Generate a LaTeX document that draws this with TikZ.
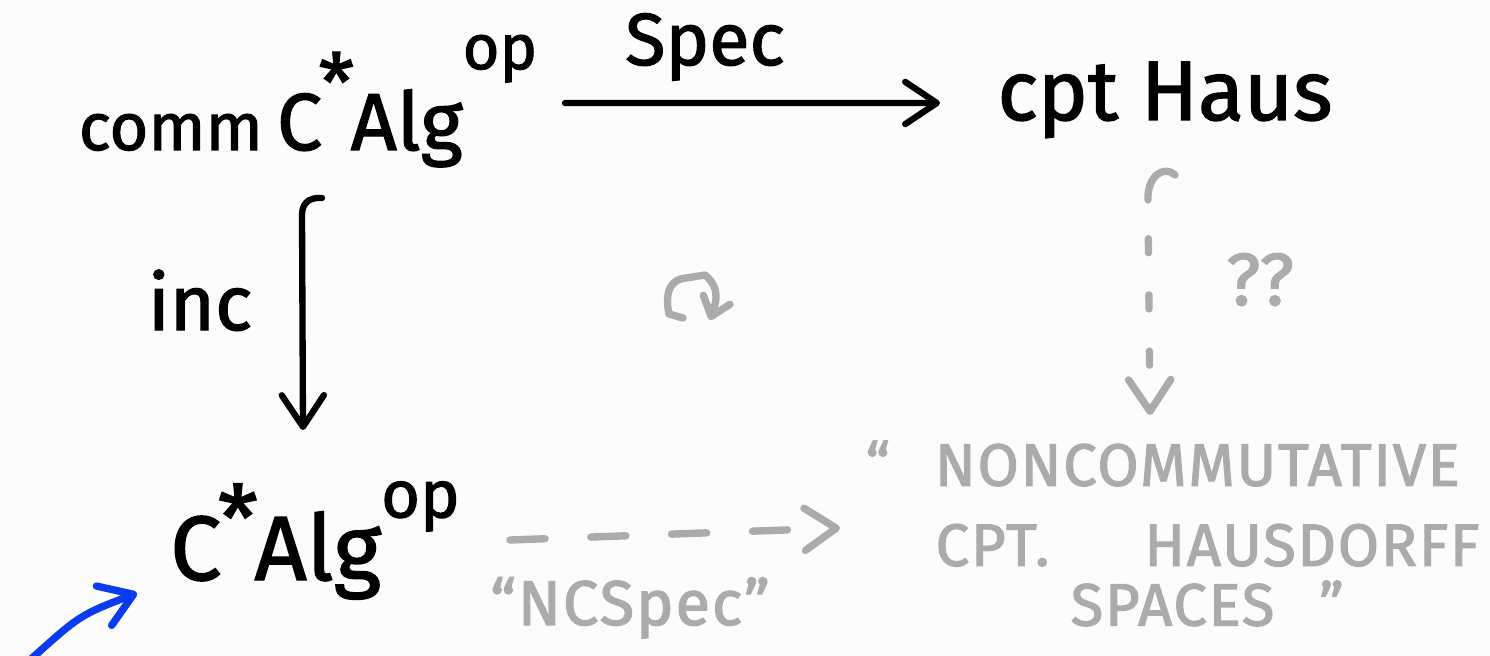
\documentclass[tikz,border=0pt]{standalone}
\usepackage{fontspec}
\setmainfont{Fira Sans}[FakeBold=1.6]
\newfontfamily\spaced[LetterSpace=3,FakeBold=2]{Fira Sans}
\usetikzlibrary{arrows.meta}
\definecolor{bg}{HTML}{FCFCFD}
\definecolor{lightgrey}{HTML}{ABABAB}
\definecolor{penblue}{HTML}{0A3BEF}
\begin{document}
\begin{tikzpicture}[
  ink/.style={line width=1.8pt, line cap=round, line join=round},
  greyink/.style={ink, draw=lightgrey, line width=2.1pt},
  tip/.style={-{Straight Barb[length=9pt,width=12pt,round]}},
  smalltip/.style={-{Straight Barb[length=5pt,width=8pt,round]}},
  lbl/.style={inner sep=0pt},
  glbl/.style={lbl, text=lightgrey, font=\spaced},
]
\fill[bg] (0,0) rectangle (14.9,6.55);
\useasboundingbox (0,0) rectangle (14.9,6.55);

% main objects
\node[lbl, anchor=base] (A) at (3.08,5.05) {\fontsize{19}{24}\selectfont comm\hspace{4pt}\fontsize{23}{28}\selectfont C\kern-1pt\raisebox{0.9ex}{*}\kern-1pt Alg\raisebox{1.9ex}{\fontsize{18}{20}\selectfont op}};
\node[lbl, anchor=base] (B) at (11.65,5.35) {\fontsize{24}{28}\selectfont cpt Haus};
\node[lbl, anchor=base] (C) at (3.15,0.75) {\fontsize{26}{30}\selectfont C\kern-1pt\raisebox{0.6ex}{*}\kern-1pt Alg\raisebox{1.3ex}{\fontsize{19}{22}\selectfont op}};
\node[glbl, anchor=north west, align=left, font=\spaced\fontsize{17}{20}\selectfont] (D) at (8.65,2.15)
  {“\hspace{0.45cm}NONCOMMUTATIVE\\[2.8pt]
   \hspace{0.7cm}CPT.\hspace{0.95cm}HAUSDORFF\\[-3pt]
   \hspace{2.05cm}SPACES\hspace{0.45cm}”};

% labels
\node[lbl, anchor=base] (spec) at (7.05,5.9) {\fontsize{21}{26}\selectfont Spec};
\node[lbl, anchor=base] (inc) at (2.0,3.25) {\fontsize{22}{24}\selectfont inc};
\node[glbl, anchor=base] (ncspec) at (6.3,0.3) {\fontsize{18}{20}\selectfont “NCSpec”};
\node[glbl, anchor=base] (qq) at (12.6,3.5) {\fontsize{21}{24}\selectfont ??};

% Spec arrow
\draw[ink, tip] ([shift={(2.57,0.47)}]A.base) -- ([shift={(-2.25,0.17)}]B.base);

% inclusion (hooked) arrow
\draw[ink, tip] ([shift={(0.14,-0.48)}]A.base)
  .. controls ([shift={(-0.01,-0.47)}]A.base) and ([shift={(-0.06,-0.55)}]A.base) ..
  ([shift={(-0.06,-0.65)}]A.base) -- ([shift={(-0.12,1.5)}]C.base);

% dashed NCSpec arrow
\draw[greyink, tip, dash pattern=on 10pt off 13pt] ([shift={(1.95,0.4)}]C.base) -- ([shift={(-0.25,-0.88)}]D.north west);

% dashed hooked arrow ??
\draw[greyink] ([shift={(0.1,-0.55)}]B.base)
  .. controls ([shift={(0.0,-0.45)}]B.base) and ([shift={(-0.18,-0.55)}]B.base) ..
  ([shift={(-0.17,-0.8)}]B.base);
\draw[greyink, tip, dash pattern=on 4pt off 12pt, dash phase=-11pt] ([shift={(-0.17,-0.8)}]B.base) -- ([shift={(2.85,0.25)}]D.north west);

% commutativity symbol
\draw[greyink, smalltip] (6.83,3.37) -- (6.69,3.41)
  .. controls (6.64,3.65) and (6.72,3.76) .. (6.86,3.77) -- (7.05,3.80)
  .. controls (7.22,3.66) and (7.15,3.5) .. (7.10,3.35);

% blue pointer arrow
\coordinate (bstart) at (0.3,-0.05);
\draw[ink, draw=penblue, line width=2.1pt, tip] (bstart) .. controls (0.8,0.4) .. ([shift={(-1.78,-0.13)}]C.base);
\end{tikzpicture}
\end{document}
